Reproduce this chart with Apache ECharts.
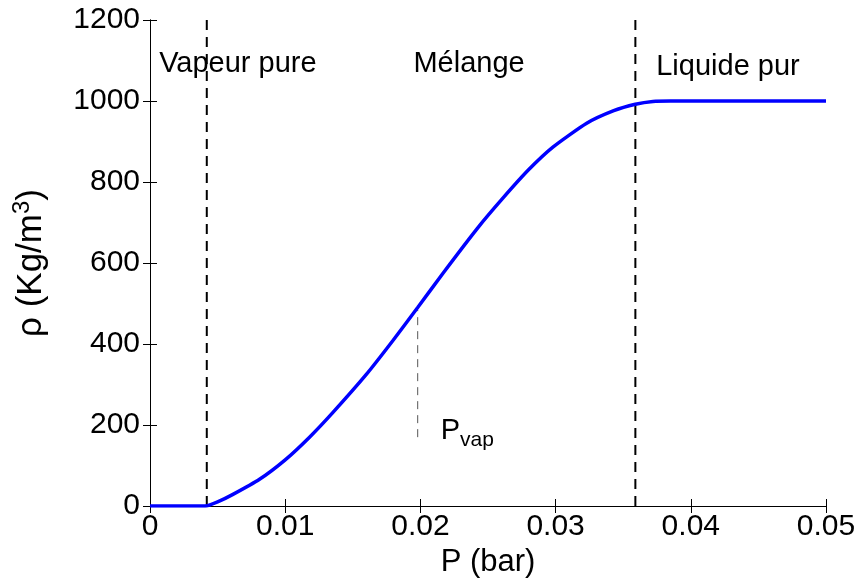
<!DOCTYPE html>
<html><head><meta charset="utf-8">
<script src="https://cdn.jsdelivr.net/npm/echarts@6/dist/echarts.min.js"></script>
<style>html,body{margin:0;padding:0;background:#fff}#c{width:861px;height:579px}</style>
</head><body><div id="c"></div>
<script>
// Data
const curveP   = [0, 0.0030, 0.0041, 0.0050, 0.0061, 0.0081, 0.0100, 0.0118, 0.0135, 0.0160, 0.0180, 0.0198, 0.0217, 0.0242, 0.0261, 0.0280, 0.0298, 0.0323, 0.0343, 0.0359, 0.0372, 0.0385, 0.0500];
const curveRho = [0, 0, 0, 10, 28, 66, 114, 170, 230, 325, 410, 490, 576, 685, 760, 830, 886, 945, 976, 992, 999, 1000, 1000];
const boundaries = [0.0042, 0.0359];
const pvapX = 0.0198;
const pvapRange = [170, 484];
const regionNames = ['Vapeur pure', 'Mélange', 'Liquide pur'];
const regionX = [0.0065, 0.0236, 0.04275];
const regionY = [1091, 1091, 1084];
const xTicks = [0, 0.01, 0.02, 0.03, 0.04, 0.05];
const yTicks = [0, 200, 400, 600, 800, 1000, 1200];

const FONT = 'Liberation Sans';
const chart = echarts.init(document.getElementById('c'));
const series = [];
series.push({
  type: 'line', data: curveP.map((p, i) => [p, curveRho[i]]),
  showSymbol: false, smooth: 0.2,
  lineStyle: { color: '#0000ff', width: 3.5 }, z: 5
});
boundaries.forEach(b => series.push({
  type: 'line', data: [[b, 0], [b, 1200]], showSymbol: false,
  lineStyle: { color: '#000', width: 2, type: [10, 7] }, z: 3
}));
series.push({
  type: 'line', data: [[pvapX, pvapRange[0]], [pvapX, pvapRange[1]]], showSymbol: false,
  lineStyle: { color: '#555', width: 1, type: [8, 6] }, z: 3
});
series.push({
  type: 'scatter', data: [[pvapX, pvapRange[0]]], symbolSize: 0,
  itemStyle: { opacity: 1 },
  label: { show: true, position: 'right', offset: [18, -6],
    formatter: '{p|P}{s|vap}',
    rich: { p: { fontFamily: FONT, fontSize: 29, color: '#000' },
            s: { fontFamily: FONT, fontSize: 21, color: '#000', padding: [18, 0, 0, 0] } } }
});
series.push({
  type: 'scatter', data: regionNames.map((n, i) => [regionX[i], regionY[i], n]), symbolSize: 0,
  itemStyle: { opacity: 1 },
  label: { show: true, position: [0, 0], align: 'center', verticalAlign: 'middle', formatter: p => p.data[2],
    fontFamily: FONT, fontSize: 29, color: '#000' }
});

const tickLabel = { fontFamily: FONT, fontSize: 30, color: '#000' };
chart.setOption({
  animation: false,
  grid: { left: 150, right: 35, top: 20, bottom: 73, show: false, containLabel: false, outerBoundsMode: 'none' },
  xAxis: [{
    type: 'value', min: 0, max: 0.05, interval: 0.01,
    axisLine: { lineStyle: { color: '#000', width: 1 } },
    axisTick: { inside: true, length: 7, lineStyle: { color: '#000' } },
    splitLine: { show: false },
    axisLabel: { ...tickLabel, margin: 6, formatter: v => { const s = xTicks.find(t => Math.abs(t - v) < 1e-9); return s === 0 ? '0' : String(+v.toFixed(2)); } },
    name: 'P (bar)', nameLocation: 'middle', nameGap: 38,
    nameTextStyle: { fontFamily: FONT, fontSize: 31, color: '#000' }
  }, {
    type: 'value', min: 0, max: 0.05, interval: 0.01, position: 'top',
    axisLine: { lineStyle: { color: '#000', width: 1 } },
    axisTick: { inside: true, length: 7, lineStyle: { color: '#000' } },
    axisLabel: { show: false }, splitLine: { show: false }
  }],
  yAxis: [{
    type: 'value', min: 0, max: 1200, interval: 200,
    axisLine: { show: true, lineStyle: { color: '#000', width: 1 } },
    axisTick: { show: true, inside: true, length: 7, lineStyle: { color: '#000' } },
    splitLine: { show: false },
    axisLabel: { ...tickLabel, margin: 10, formatter: v => String(v) },
    name: 'ρ (Kg/m{sup|3})', nameLocation: 'middle', nameGap: 98, nameRotate: 90,
    nameTextStyle: { fontFamily: FONT, fontSize: 35, color: '#000',
      rich: { sup: { fontFamily: FONT, fontSize: 24, color: '#000', verticalAlign: 'top', padding: [0, 0, 18, 0] } } }
  }, {
    type: 'value', min: 0, max: 1200, interval: 200, position: 'right',
    axisLine: { show: true, lineStyle: { color: '#000', width: 1 } },
    axisTick: { show: true, inside: true, length: 7, lineStyle: { color: '#000' } },
    axisLabel: { show: false }, splitLine: { show: false }
  }],
  series: series
});
</script></body></html>
